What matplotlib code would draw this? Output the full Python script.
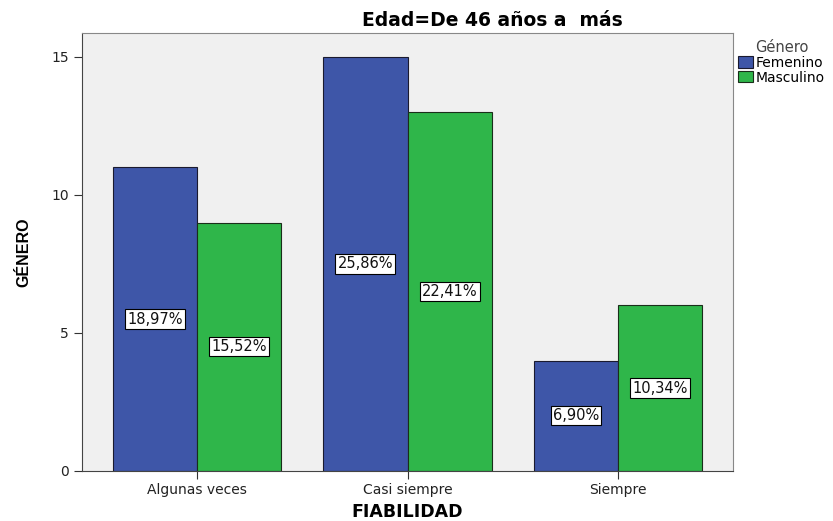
import numpy as np
import matplotlib.pyplot as plt

plt.rcParams['font.family'] = ['DejaVu Sans']

# Data
categorias = ['Algunas veces', 'Casi siempre', 'Siempre']
femenino = [11, 15, 4]
masculino = [9, 13, 6]
pct_fem = ['18,97%', '25,86%', '6,90%']
pct_masc = ['15,52%', '22,41%', '10,34%']

azul = '#3E56A8'
verde = '#2FB64A'

fig = plt.figure(figsize=(8.33, 5.21), dpi=100)
ax = fig.add_axes([0.0984, 0.096, 0.7816, 0.8407])
ax.set_facecolor('#F0F0F0')

x = np.arange(len(categorias))
w = 0.4
b1 = ax.bar(x - w / 2, femenino, w, color=azul, edgecolor='#1a1a2e', linewidth=0.8, label='Femenino')
b2 = ax.bar(x + w / 2, masculino, w, color=verde, edgecolor='#1a2e1a', linewidth=0.8, label='Masculino')

# Percent labels at half bar height
for bars, labels in ((b1, pct_fem), (b2, pct_masc)):
    for rect, txt in zip(bars, labels):
        ax.text(rect.get_x() + rect.get_width() / 2, rect.get_height() / 2, txt,
                ha='center', va='center', fontsize=10.5, color='#111111',
                bbox=dict(boxstyle='square,pad=0.15', facecolor='white', edgecolor='black', linewidth=0.8))

ax.set_xlim(-0.546, 2.546)
ax.set_ylim(0, 15.87)
ax.set_xticks(x)
ax.set_xticklabels(categorias)
ax.set_yticks([0, 5, 10, 15])
ax.tick_params(axis='both', direction='out', length=6, colors='#333333', labelsize=10,
               labelcolor='#222222')
ax.tick_params(axis='x', pad=3)

for side in ('top', 'right'):
    ax.spines[side].set_color('#888888')
for side in ('left', 'bottom'):
    ax.spines[side].set_color('#444444')

ax.set_title('Edad=De 46 años a  más', fontsize=13.5, fontweight='bold', x=0.631, pad=5)
ax.set_xlabel('FIABILIDAD', fontsize=12.5, fontweight='bold', labelpad=4)
ax.set_ylabel('GÉNERO', fontsize=11.5, fontweight='bold',
              family=['Liberation Sans Narrow', 'Liberation Sans'], labelpad=14)

leg = ax.legend(title='Género', loc='upper left', bbox_to_anchor=(1.003, 0.99),
                frameon=False, fontsize=10, title_fontsize=10.5,
                handlelength=1.1, handleheight=0.9, handletextpad=0.2,
                labelspacing=0.05, borderaxespad=0.0, borderpad=0.2)
leg.get_title().set_color('#444444')

fig.savefig('out.png', dpi=100)
